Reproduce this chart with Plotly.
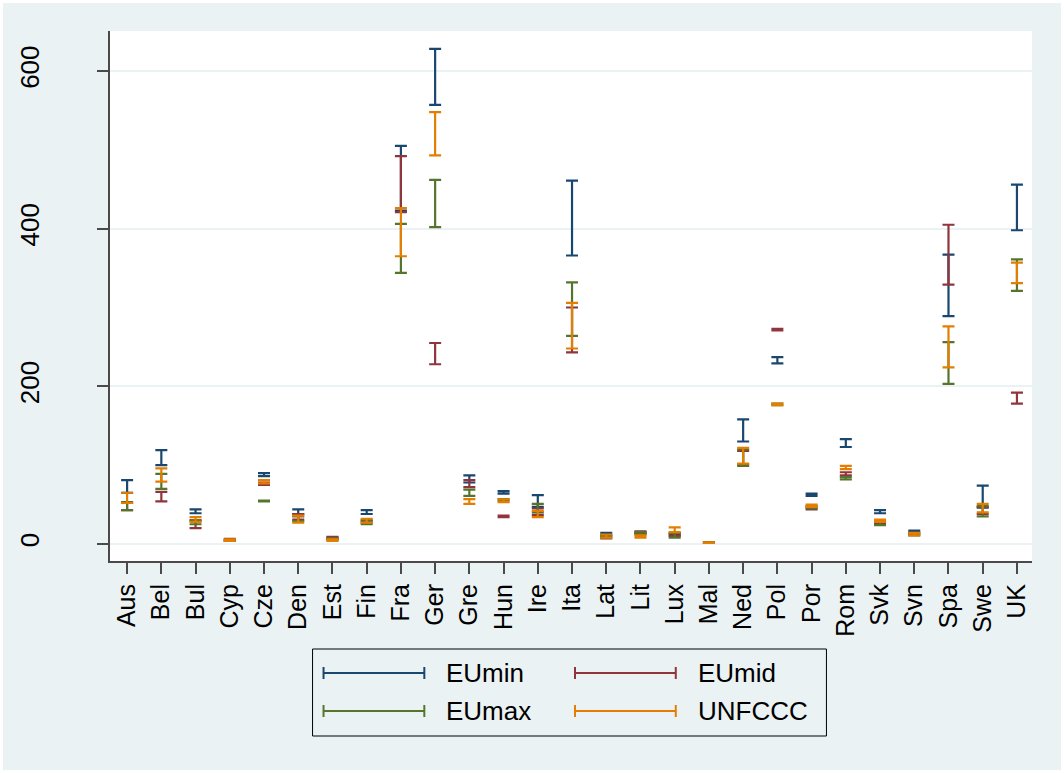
import plotly.graph_objects as go

countries = ["Aus", "Bel", "Bul", "Cyp", "Cze", "Den", "Est", "Fin", "Fra", "Ger",
             "Gre", "Hun", "Ire", "Ita", "Lat", "Lit", "Lux", "Mal", "Ned", "Pol",
             "Por", "Rom", "Svk", "Svn", "Spa", "Swe", "UK"]

eumin_lo = [65, 100, 39, 4, 86, 38, 6, 38, 423, 557, 78, 64, 47, 366, 12, 13, 11, 1.5, 130, 229, 61, 123, 39, 16, 289, 46, 398]
eumin_hi = [81, 119, 44, 5, 90, 44, 8, 43, 505, 628, 87, 67, 62, 461, 14, 15, 13, 2, 158, 237, 64, 133, 43, 17, 367, 74, 456]

eumid_lo = [43, 54, 20, 5, 75, 31, 7, 27, 421, 228, 72, 34, 37, 243, 7, 14, 10, 1.5, 101, 271, 44, 87, 26, 12, 329, 38, 178]
eumid_hi = [52, 66, 30, 6.5, 78, 38, 9, 30, 492, 255, 81, 36, 45, 300, 10, 16, 13, 2.5, 118, 273, 47, 91, 29, 14, 405, 47, 192]

eumax_lo = [43, 70, 25, 4, 54, 29, 5, 25, 344, 402, 61, 55, 40, 264, 8, 12, 8, 1.5, 99, 176, 45, 82, 24, 11, 203, 35, 321]
eumax_hi = [53, 89, 30, 5, 55, 35, 7, 30, 406, 462, 69, 57, 51, 332, 11, 15, 14, 2, 120, 178, 48, 85, 28, 13, 256, 48, 361]

unfccc_lo = [52, 79, 28, 4, 77, 27, 4, 27, 365, 493, 51, 53, 34, 248, 8, 8, 15, 1.5, 102, 176, 47, 95, 28, 11, 224, 40, 331]
unfccc_hi = [65, 96, 34, 6, 81, 36, 6, 32, 426, 548, 57, 56.5, 42, 306, 12, 11, 21, 2, 122, 178, 50, 99, 31, 14, 276, 51, 357]

series_names = ["EUmin", "EUmid", "EUmax", "UNFCCC"]
series_colors = ["#1A476F", "#90353B", "#55752F", "#E37E00"]
series_data = [(eumin_lo, eumin_hi), (eumid_lo, eumid_hi), (eumax_lo, eumax_hi), (unfccc_lo, unfccc_hi)]

y_ticks = [0, 200, 400, 600]

BG = "#EAF2F3"
FONT = "Arial, Liberation Sans, sans-serif"

fig = go.Figure()
for name, color, (lo, hi) in zip(series_names, series_colors, series_data):
    mid = [(a + b) / 2 for a, b in zip(lo, hi)]
    half = [(b - a) / 2 for a, b in zip(lo, hi)]
    fig.add_trace(go.Scatter(
        x=countries, y=mid, mode="markers", name=name, showlegend=False,
        marker=dict(size=1, color="rgba(0,0,0,0)"),
        error_y=dict(type="data", symmetric=True, array=half, width=6,
                     thickness=2.2, color=color),
        hoverinfo="skip",
    ))

# page geometry (figure placed at 3px offset)
W, H = 1058, 767
L, R, T, B = 105, 29, 28, 209
PW, PH = W - L - R, H - T - B
OFF = 3

def px(X):
    return (X - OFF - L) / PW

def py(Y):
    return (H - B - (Y - OFF)) / PH

shapes = []
annotations = []
# legend box
shapes.append(dict(type="rect", xref="paper", yref="paper",
                   x0=px(311), x1=px(826), y0=py(736), y1=py(649),
                   line=dict(color="black", width=1), fillcolor=BG, layer="below"))
legend_pos = [(322, 673), (574, 673), (322, 711), (574, 711)]
for (name, color), (lx, ly) in zip(zip(series_names, series_colors), legend_pos):
    shapes.append(dict(type="line", xref="paper", yref="paper",
                       x0=px(lx), x1=px(lx + 101), y0=py(ly), y1=py(ly),
                       line=dict(color=color, width=2)))
    for cx in (lx, lx + 101):
        shapes.append(dict(type="line", xref="paper", yref="paper",
                           x0=px(cx), x1=px(cx), y0=py(ly - 6), y1=py(ly + 6),
                           line=dict(color=color, width=2)))
    annotations.append(dict(xref="paper", yref="paper", x=px(lx + 121), y=py(ly),
                            text=name, showarrow=False, xanchor="left", yanchor="middle",
                            font=dict(family=FONT, size=26, color="black")))

fig.update_layout(
    width=W, height=H,
    margin=dict(l=L, r=R, t=T, b=B, pad=0),
    paper_bgcolor=BG, plot_bgcolor="white",
    font=dict(family=FONT, size=25, color="black"),
    shapes=shapes, annotations=annotations,
    xaxis=dict(
        type="category", range=[-0.5, 26.44], tickangle=-90,
        showline=True, linecolor="#4a4a4a", linewidth=2,
        ticks="outside", ticklen=11, tickwidth=2, tickcolor="#4a4a4a",
        showgrid=False, zeroline=False, mirror=False,
        tickfont=dict(family=FONT, size=25, color="black"),
    ),
    yaxis=dict(
        range=[-21.6, 650.8], tickvals=y_ticks, tickangle=-90,
        showline=True, linecolor="#4a4a4a", linewidth=2,
        ticks="outside", ticklen=11, tickwidth=2, tickcolor="#4a4a4a",
        showgrid=True, gridcolor=BG, gridwidth=2, zeroline=False,
        tickfont=dict(family=FONT, size=26, color="black"),
        ticklabelstandoff=48,
    ),
)

fig.write_html("out.html", post_script="document.body.style.margin='3px';")
